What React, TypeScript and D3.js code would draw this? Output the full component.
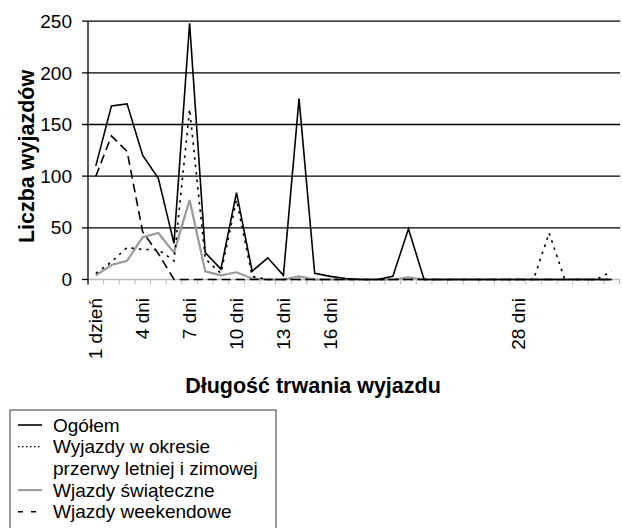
import React from "react";
import * as d3 from "d3";

const days = [1,2,3,4,5,6,7,8,9,10,11,12,13,14,15,16,17,18,19,20,21,22,23,24,25,26,27,28,29,30,31,32,33,34];
const tickDays = [1, 4, 7, 10, 13, 16, 28];
const tickLabels = ["1 dzień", "4 dni", "7 dni", "10 dni", "13 dni", "16 dni", "28 dni"];
const yTicks = [0, 50, 100, 150, 200, 250];

const ogolem = [110,168,170,120,98,35,248,26,10,84,8,21,4,175,6,3,1,0,0,3,49,0,0,0,0,0,0,0,0,0,0,0,0,0];
const przerwa = [6,17,31,29,29,18,165,20,6,77,3,0,0,0,0,0,0,0,0,0,0,0,0,0,0,0,0,0,0,45,0,0,0,8];
const swiateczne = [4,14,18,41,45,26,77,8,4,7,1,0,0,3,0,0,0,0,0,0,2,0,0,0,0,0,0,0,0,0,0,0,0,0];
const weekendowe = [100,139,124,46,25,0,0,0,0,0,0,0,0,0,0,0,0,0,0,0,0,0,0,0,0,0,0,0,0,0,0,0,0,0];

const legendItems = [
  { lines: ["Ogółem"], color: "#000", width: 1.6, dash: "" },
  { lines: ["Wyjazdy w okresie", "przerwy letniej i zimowej"], color: "#000", width: 1.2, dash: "1.5,2.5" },
  { lines: ["Wjazdy świąteczne"], color: "#999", width: 2, dash: "" },
  { lines: ["Wjazdy weekendowe"], color: "#000", width: 1.6, dash: "5,8" },
];

const FONT = "Arial, 'Liberation Sans', sans-serif";

export default function App() {
  const x0 = 88, x1 = 619.5, y0 = 279.5, y1 = 21.2;
  const x = d3.scaleBand<number>().domain(days).range([x0, x1]).padding(0);
  const y = d3.scaleLinear().domain([0, 250]).range([y0, y1]);
  const cx = (d: number) => (x(d) as number) + x.bandwidth() / 2;

  const line = (vals: number[]) =>
    d3.line<number>().x((_, i) => cx(days[i])).y((v) => y(v))(vals) as string;

  const series = [
    { vals: swiateczne, color: "#999", width: 2.2, dash: "" },
    { vals: weekendowe, color: "#000", width: 1.6, dash: "9,5" },
    { vals: przerwa, color: "#000", width: 1.6, dash: "2.5,5" },
    { vals: ogolem, color: "#000", width: 1.6, dash: "" },
  ];

  const boundaries = days.map((d) => (x(d) as number) + x.bandwidth());

  let rowY = 425;
  const rowH = 21.7;

  return (
    <div style={{ position: "fixed", left: 0, top: 0 }}>
      <svg width={622} height={528} style={{ display: "block", background: "#fff" }} fontFamily={FONT}>
        {/* gridlines */}
        {yTicks.filter((t) => t > 0).map((t) => (
          <line key={t} x1={82} x2={620} y1={y(t)} y2={y(t)} stroke="#000" strokeWidth={1.3} />
        ))}
        {/* x axis */}
        <line x1={x0} x2={620} y1={y0} y2={y0} stroke="#bbb" strokeWidth={1.3} />
        <line x1={82} x2={x0} y1={y0} y2={y0} stroke="#000" strokeWidth={1.3} />
        {boundaries.map((b, i) => (
          <line key={i} x1={b} x2={b} y1={y0} y2={y0 + 5} stroke="#bbb" strokeWidth={1} />
        ))}
        {/* y axis */}
        <line x1={x0} x2={x0} y1={y1} y2={y0 + 5} stroke="#000" strokeWidth={1.3} />
        {yTicks.map((t) => (
          <text key={t} x={72} y={y(t)} dy="0.35em" textAnchor="end" fontSize={19} fill="#000">
            {t}
          </text>
        ))}
        {/* series */}
        {series.map((s, i) => (
          <path key={i} d={line(s.vals)} fill="none" stroke={s.color} strokeWidth={s.width}
            strokeDasharray={s.dash || undefined} strokeLinejoin="miter" />
        ))}
        {/* x tick labels */}
        {tickDays.map((d, i) => (
          <text key={d} transform={`translate(${cx(d)},298) rotate(-90)`} dy="0.35em"
            textAnchor="end" fontSize={19} fill="#000">
            {tickLabels[i]}
          </text>
        ))}
        {/* axis titles */}
        <text x={313} y={393} textAnchor="middle" fontSize={21.5} fontWeight="bold">
          Długość trwania wyjazdu
        </text>
        <text transform="translate(33.5,156.5) rotate(-90)" textAnchor="middle" fontSize={21.5} fontWeight="bold">
          Liczba wyjazdów
        </text>
        {/* legend */}
        <rect x={10} y={410} width={266} height={140} fill="#fff" stroke="#555" strokeWidth={1.2} />
        {legendItems.map((it, i) => {
          const yy = rowY;
          rowY += rowH * it.lines.length;
          return (
            <g key={i}>
              <line x1={18} x2={42} y1={yy} y2={yy} stroke={it.color} strokeWidth={it.width}
                strokeDasharray={it.dash || undefined} />
              {it.lines.map((l, j) => (
                <text key={j} x={53} y={yy + j * rowH} dy="0.35em" fontSize={19} fill="#000">
                  {l}
                </text>
              ))}
            </g>
          );
        })}
      </svg>
    </div>
  );
}
